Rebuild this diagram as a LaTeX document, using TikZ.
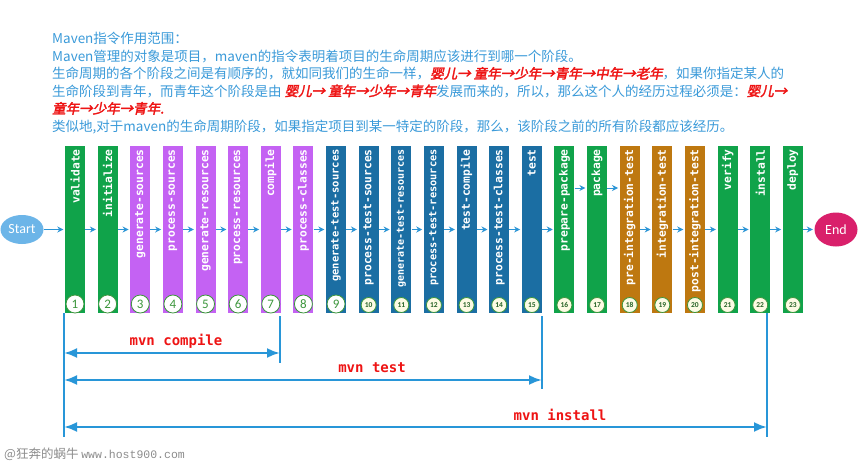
\documentclass[tikz,border=0pt]{standalone}
\usepackage{fontspec}
\setmainfont{Noto Sans CJK SC}
\newfontfamily\cjk{Noto Sans CJK SC}
\newfontfamily\cjkred[FakeSlant=0.2,FakeBold=2.5]{Noto Sans CJK SC}
\newfontfamily\barfont{DejaVu Sans Mono}
\newfontfamily\labfont{Carlito}
\newfontfamily\wmmono{Liberation Mono}
\usetikzlibrary{arrows.meta,calc,shapes.geometric}
\definecolor{cg}{RGB}{16,163,74}
\definecolor{cp}{RGB}{196,98,243}
\definecolor{cb}{RGB}{27,110,163}
\definecolor{co}{RGB}{190,120,16}
\definecolor{tblue}{RGB}{58,154,217}
\definecolor{tred}{RGB}{238,20,20}
\definecolor{flowc}{RGB}{43,149,214}
\definecolor{brc}{RGB}{40,150,216}
\definecolor{startc}{RGB}{108,181,232}
\definecolor{endc}{RGB}{217,32,107}
\definecolor{numg}{RGB}{60,150,60}
\definecolor{numdg}{RGB}{40,100,40}
\definecolor{cream}{RGB}{253,251,228}
\newcommand\rd[1]{{\color{tred}\cjkred #1}}
\begin{document}
\begin{tikzpicture}[x=1pt,y=-1pt,
  bar/.style={draw=none,minimum width=20pt,minimum height=167pt,inner sep=0pt},
  bartext/.style={rotate=90,anchor=east,inner sep=0pt,text=white},
  bignum/.style={circle,draw=numg,line width=0.8pt,fill=white,minimum size=18pt,inner sep=0pt,text=numg,font=\labfont\fontsize{13}{13}\selectfont},
  smallnum/.style={circle,draw=numg,line width=0.8pt,fill=cream,minimum size=15pt,inner sep=0pt,text=numdg,font=\labfont\bfseries\fontsize{7.5}{7.5}\selectfont},
  flow/.style={draw=flowc,line width=1pt,-{Stealth[length=6pt,width=6pt]},shorten >=1.5pt},
  brline/.style={draw=brc,line width=2.6pt},
  brarrow/.style={draw=brc,line width=2.4pt,{Latex[length=13pt,width=10pt]}-{Latex[length=13pt,width=10pt]}},
  mvnlab/.style={text=tred,font=\barfont\bfseries\fontsize{14}{14}\selectfont,inner sep=0pt},
  tline/.style={anchor=base west,inner sep=0pt,text=tblue,font=\cjk\fontsize{13.5}{17.5}\selectfont},
  term/.style={ellipse,inner sep=0pt,text=white,font=\labfont\fontsize{14}{14}\selectfont}
]
\useasboundingbox (0,0) rectangle (859,474);
\fill[white] (0,0) rectangle (859,474);

% header text
\node[tline] (t1) at (52,43) {Maven指令作用范围：};
\node[tline] (t2) at (52,61) {Maven管理的对象是项目，maven的指令表明着项目的生命周期应该进行到哪一个阶段。};
\node[tline] (t3) at (52,78.5) {生命周期的各个阶段之间是有顺序的，就如同我们的生命一样，\rd{婴儿→ 童年→少年→青年→中年→老年}，如果你指定某人的};
\node[tline] (t4) at (52,96) {生命阶段到青年，而青年这个阶段是由 \rd{婴儿→ 童年→少年→青年}发展而来的，所以，那么这个人的经历过程必须是：\rd{婴儿→}};
\node[tline] (t5) at (52,113.5) {\rd{童年→少年→青年.}};
\node[tline] (t6) at (52,131) {类似地,对于maven的生命周期阶段，如果指定项目到某一特定的阶段，那么，该阶段之前的所有阶段都应该经历。};

% phases
\foreach \i/\nm/\col/\fs in {
  1/validate/cg/11.3, 2/initialize/cg/11.3, 3/generate-sources/cp/11.3,
  4/process-sources/cp/11.3, 5/generate-resources/cp/11.3, 6/process-resources/cp/11.3,
  7/compile/cp/11.3, 8/process-classes/cp/11.3, 9/generate-test-sources/cb/10.5,
  10/process-test-sources/cb/11.3, 11/generate-test-resources/cb/10, 12/process-test-resources/cb/10.3,
  13/test-compile/cb/11.3, 14/process-test-classes/cb/11.3, 15/test/cb/11.3,
  16/prepare-package/cg/11.3, 17/package/cg/11.3, 18/pre-integration-test/co/11.3,
  19/integration-test/co/11.3, 20/post-integration-test/co/11.3, 21/verify/cg/11.3,
  22/install/cg/11.3, 23/deploy/cg/11.3}{
  \pgfmathsetmacro\cx{75+(\i-1)*32.63}
  \node[bar,fill=\col] (b\i) at (\cx,229.5) {};
  \node[bartext,font=\barfont\bfseries\fontsize{\fs}{\fs}\selectfont] (bt\i) at (\cx,149) {\nm};
  \ifnum\i<10
    \node[bignum] (c\i) at (\cx,304) {\i};
  \else
    \node[smallnum] (c\i) at (\cx,305) {\i};
  \fi
}

% start / end
\node[term,fill=startc,minimum width=43pt,minimum height=29pt] (start) at (22,229.5) {Start};
\node[term,fill=endc,minimum width=43pt,minimum height=34pt] (end) at (836,229.5) {End};

\coordinate (hi) at (0,188);
\draw[flow] (start) -- (b1);
\foreach \i in {1,...,22}{
  \pgfmathtruncatemacro\j{\i+1}
  \ifnum\i=16
    \draw[flow] (b\i.east |- hi) -- (b\j.west |- hi);
  \else\ifnum\i=17
    \draw[flow] (b\i.east |- hi) -- (b\j.west |- hi);
  \else
    \draw[flow] (b\i) -- (b\j);
  \fi\fi
}
\draw[flow] (b23) -- (end);

% brackets
\coordinate (v1t) at (64,313);  \coordinate (v1b) at (64,437);
\coordinate (v2t) at (280,316); \coordinate (v2b) at (280,363);
\coordinate (v3t) at (542,316); \coordinate (v3b) at (542,389);
\coordinate (v4t) at (767,313); \coordinate (v4b) at (767,437);
\draw[brline] (v1t) -- (v1b);
\draw[brline] (v2t) -- (v2b);
\draw[brline] (v3t) -- (v3b);
\draw[brline] (v4t) -- (v4b);
\coordinate (a1l) at (64,353);  \coordinate (a1r) at (280,353);
\coordinate (a2l) at (64,380);  \coordinate (a2r) at (542,380);
\coordinate (a3l) at (64,427);  \coordinate (a3r) at (767,427);
\draw[brarrow] (a1l) -- (a1r);
\draw[brarrow] (a2l) -- (a2r);
\draw[brarrow] (a3l) -- (a3r);
\node[mvnlab] (l1) at (176,341) {mvn compile};
\node[mvnlab] (l2) at (372,368) {mvn test};
\node[mvnlab] (l3) at (560,415) {mvn install};

% watermark
\node[anchor=base west,inner sep=0pt,text=black!45,font=\cjk\fontsize{12.5}{13}\selectfont] (wm) at (4,458) {@狂奔的蜗牛 {\wmmono\fontsize{11.5}{13}\selectfont www.host900.com}};
\end{tikzpicture}
\end{document}
